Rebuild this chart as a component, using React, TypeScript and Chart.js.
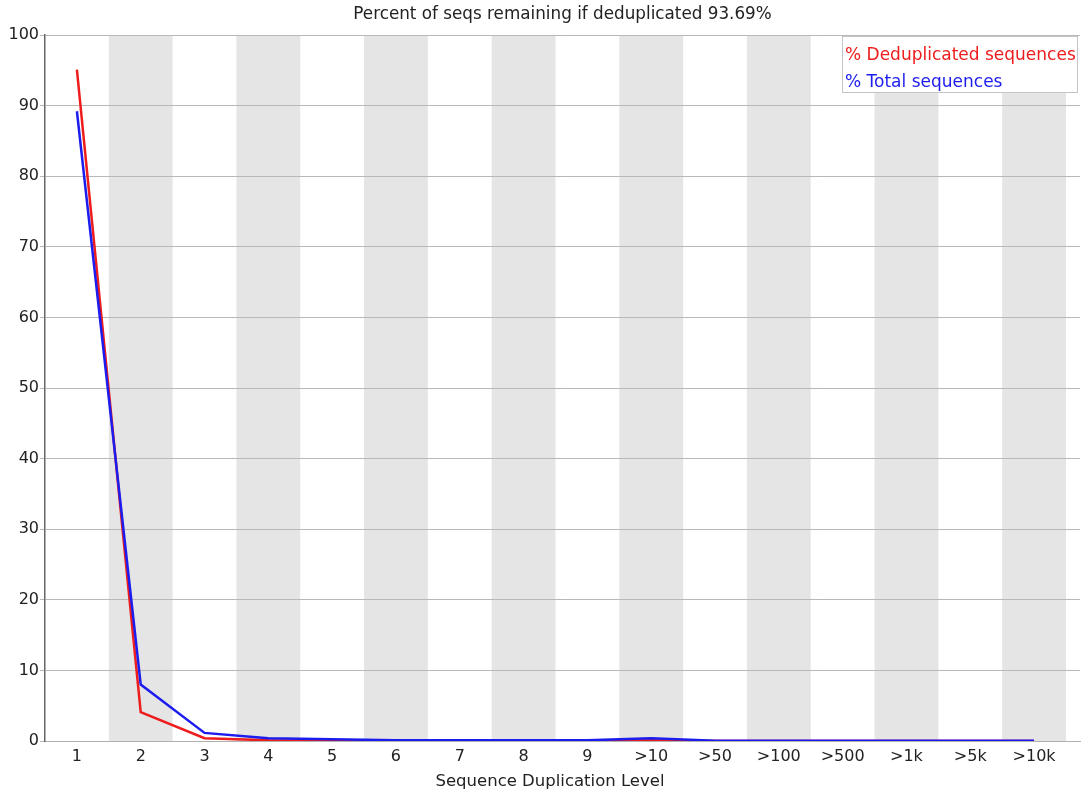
import React, { useEffect, useRef } from "react";
import { Chart, registerables } from "chart.js";

Chart.register(...registerables);

const categories = ["1", "2", "3", "4", "5", "6", "7", "8", "9", ">10", ">50", ">100", ">500", ">1k", ">5k", ">10k"];
const dedupSeries = [95.1, 4.1, 0.4, 0.1, 0.05, 0.02, 0.02, 0.02, 0.02, 0.1, 0.01, 0.0, 0.0, 0.0, 0.0, 0.0];
const totalSeries = [89.2, 8.0, 1.15, 0.4, 0.25, 0.1, 0.1, 0.1, 0.1, 0.4, 0.05, 0.02, 0.02, 0.02, 0.02, 0.02];
const yTicks = [0, 10, 20, 30, 40, 50, 60, 70, 80, 90, 100];
const titleText = "Percent of seqs remaining if deduplicated 93.69%";
const xTitle = "Sequence Duplication Level";
const legendLabels = ["% Deduplicated sequences", "% Total sequences"];

const RED = "#ee1c1c";
const BLUE = "#1c1cee";
const FONT = "'DejaVu Sans', Verdana, sans-serif";

const bandsPlugin = {
  id: "bands",
  beforeDraw(chart: any) {
    const { ctx, chartArea, scales } = chart;
    const xs = scales.x;
    ctx.save();
    ctx.fillStyle = "#e5e5e5";
    categories.forEach((_, i) => {
      if (i % 2 === 1) {
        const l = xs.getPixelForValue(i + 0.5);
        const r = xs.getPixelForValue(i + 1.5);
        ctx.fillRect(l, chartArea.top, r - l, chartArea.bottom - chartArea.top);
      }
    });
    ctx.restore();
  },
};

const overlayPlugin = {
  id: "overlay",
  afterDraw(chart: any) {
    const { ctx, chartArea } = chart;
    ctx.save();
    ctx.font = `16.8px ${FONT}`;
    ctx.fillStyle = "#222";
    ctx.textAlign = "center";
    ctx.textBaseline = "middle";
    ctx.fillText(titleText, (chartArea.left + chartArea.right) / 2, 15);
    ctx.font = `16.5px ${FONT}`;
    ctx.fillText(xTitle, 550, 782);

    // legend box
    const bx = 842, by = 36, bw = 235, bh = 56;
    ctx.fillStyle = "#ffffff";
    ctx.fillRect(bx, by, bw, bh);
    ctx.strokeStyle = "#c4c4c4";
    ctx.lineWidth = 1;
    ctx.strokeRect(bx + 0.5, by + 0.5, bw, bh);
    ctx.font = `17px ${FONT}`;
    ctx.textAlign = "left";
    ctx.fillStyle = RED;
    ctx.fillText(legendLabels[0], 845, 56);
    ctx.fillStyle = BLUE;
    ctx.fillText(legendLabels[1], 845, 83);
    ctx.restore();
  },
};

export default function App() {
  const ref = useRef<HTMLCanvasElement>(null);
  useEffect(() => {
    document.body.style.margin = "0";
    const chart = new Chart(ref.current!, {
      type: "line",
      data: {
        datasets: [
          {
            label: legendLabels[0],
            data: dedupSeries.map((v, i) => ({ x: i + 1, y: v })),
            borderColor: RED,
            borderWidth: 2.5,
            pointRadius: 0,
            tension: 0,
            order: 1,
          },
          {
            label: legendLabels[1],
            data: totalSeries.map((v, i) => ({ x: i + 1, y: v })),
            borderColor: BLUE,
            borderWidth: 2.5,
            pointRadius: 0,
            tension: 0,
            order: 0,
          },
        ],
      },
      options: {
        animation: false,
        responsive: false,
        layout: { padding: { top: 35, left: 0, right: 2, bottom: 0 } },
        plugins: { legend: { display: false }, title: { display: false }, tooltip: { enabled: false } },
        scales: {
          x: {
            type: "linear",
            min: 0.5,
            max: 16.72,
            afterBuildTicks: (s: any) => {
              s.ticks = categories.map((_, i) => ({ value: i + 1 }));
            },
            afterFit: (s: any) => {
              s.height = 59;
            },
            grid: { display: false, drawTicks: false },
            border: { display: true, color: "#b0b0b0", width: 1 },
            ticks: {
              autoSkip: false,
              maxRotation: 0,
              padding: 6,
              color: "#222",
              font: { family: FONT, size: 16 },
              callback: (v: any) => categories[Math.round(v) - 1] ?? "",
            },
            title: { display: false },
          },
          y: {
            min: 0,
            max: 100,
            afterBuildTicks: (s: any) => {
              s.ticks = yTicks.map((v) => ({ value: v }));
            },
            afterFit: (s: any) => {
              s.width = 45;
            },
            grid: { color: "#b8b8b8", lineWidth: 1, tickLength: 5 },
            border: { display: true, color: "#666", width: 1.5 },
            ticks: {
              padding: 1,
              color: "#222",
              font: { family: FONT, size: 16 },
            },
          },
        },
      },
      plugins: [bandsPlugin, overlayPlugin],
    } as any);
    return () => chart.destroy();
  }, []);
  return <canvas ref={ref} width={1082} height={800} style={{ display: "block" }} />;
}
